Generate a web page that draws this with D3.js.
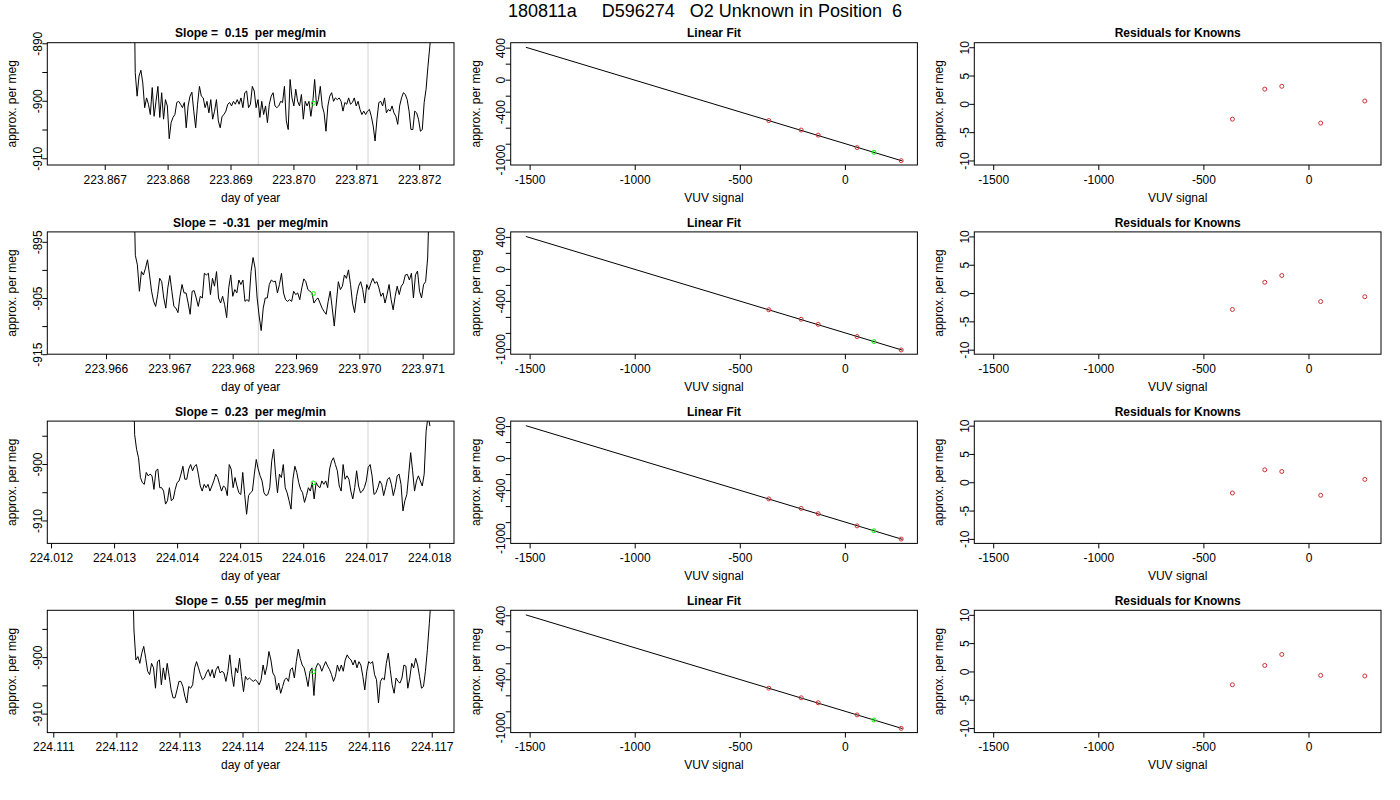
<!DOCTYPE html>
<html>
<head>
<meta charset="utf-8">
<script src="https://cdn.jsdelivr.net/npm/d3@7"></script>
<style>
    body { margin: 0; background: #fff; }
    svg text { font-family: "Liberation Sans", Arial, Helvetica, sans-serif; font-size: 12px; fill: #000; white-space: pre; }
</style>
</head>
<body>
<svg id="chart" width="1400" height="800"></svg>
<script>
// Run header
let runTitle = "180811a     D596274   O2 Unknown in Position  6";

// Drift slope for each aliquot (per meg/min)
let slopes = [0.15, -0.31, 0.23, 0.55];

// Time series, one row per aliquot (approx. per meg, evenly sampled)
let sampleStart = [223.867455, 223.966431, 224.013296, 224.112248];
let sampleEnd = [223.872199, 223.971111, 224.018011, 224.116993];

let perMeg1 = [
    -870, -895.1, -899.2, -895.7, -894.7, -896.9, -901.2, -899.5, -900.6, -902.4,
    -897.7, -902.7, -900.1, -897.5, -902.9, -898.6, -903.2, -899.8, -900.9, -906.6,
    -903.8, -902.9, -902.4, -900.3, -900.1, -900.6, -901.2, -900.3, -904.7, -900.9,
    -899.2, -898.5, -901.8, -904.7, -900.6, -897.5, -899.2, -899.5, -901.2, -900.1,
    -902.1, -899.8, -903.2, -901.8, -899.8, -903.5, -904.7, -902.7, -902.4, -901.8,
    -900.6, -900.3, -900.9, -900.1, -900.6, -899.8, -900.6, -899.5, -901.2, -898.6,
    -898.3, -901.2, -900.6, -897.5, -898.3, -901.2, -899.8, -902.9, -900.1, -902.4,
    -900.9, -903.8, -900.6, -899.2, -898.6, -900.9, -901.2, -900.9, -900.1, -900.3,
    -897.5, -903.5, -905.0, -896.3, -899.5, -900.9, -898.0, -900.1, -900.9, -898.9,
    -903.2, -900.1, -900.9, -900.1, -902.7, -900.3, -896.3, -900.9, -899.8, -897.5,
    -900.9, -902.1, -905.3, -900.9, -899.2, -898.6, -900.1, -899.5, -899.8, -899.5,
    -900.1, -901.8, -900.3, -900.6, -899.5, -900.6, -900.3, -899.5, -900.9, -900.1,
    -901.5, -902.4, -901.8, -902.4, -901.8, -901.5, -902.7, -904.4, -907.0, -903.2,
    -900.3, -900.1, -900.9, -899.5, -902.1, -901.5, -901.8, -900.9, -902.1, -902.7,
    -904.1, -900.9, -899.5, -898.6, -898.9, -899.8, -901.8, -905.0, -905.0, -901.8,
    -902.1, -903.2, -905.3, -905.0, -900.3, -898.0, -894.0, -890.5, -887.0
];

let perMeg2 = [
    -880, -897.4, -899.1, -903.8, -900.3, -900.9, -899.7, -898.2, -900.9, -903.8,
    -905.6, -906.5, -904.4, -901.5, -902.1, -905.0, -906.8, -903.2, -901.0, -903.8,
    -906.5, -906.8, -907.6, -904.7, -902.6, -904.1, -904.1, -905.9, -907.9, -903.8,
    -903.7, -905.0, -906.5, -904.7, -905.0, -900.6, -900.9, -900.6, -904.4, -901.5,
    -902.9, -900.3, -905.0, -905.9, -904.7, -906.2, -908.5, -903.2, -900.9, -904.7,
    -903.5, -904.1, -901.8, -902.6, -901.8, -905.6, -905.3, -905.6, -900.3, -897.8,
    -899.7, -905.0, -908.2, -910.8, -906.8, -905.0, -905.0, -902.6, -901.8, -902.1,
    -902.0, -904.1, -902.6, -900.6, -904.1, -905.3, -905.6, -905.3, -905.6, -903.8,
    -904.4, -904.1, -905.3, -903.2, -901.6, -902.1, -903.5, -903.8, -904.1, -905.9,
    -905.3, -905.0, -905.9, -906.8, -907.4, -907.9, -905.6, -903.8, -906.8, -910.0,
    -905.9, -902.1, -903.5, -902.9, -900.9, -901.5, -900.0, -902.6, -905.9, -907.6,
    -904.7, -902.9, -902.1, -903.5, -905.9, -902.6, -903.5, -902.4, -901.5, -902.4,
    -902.1, -903.2, -904.7, -904.1, -905.9, -904.4, -902.6, -905.3, -907.1, -904.7,
    -902.9, -904.4, -902.9, -902.4, -900.9, -900.8, -901.8, -900.6, -905.0, -900.9,
    -900.2, -903.8, -905.0, -902.6, -902.1, -897.9, -885
];

let perMeg3 = [
    -880, -894.8, -897.4, -898.9, -902.4, -903.3, -903.6, -901.5, -902.1, -901.8,
    -902.1, -904.5, -901.2, -900.9, -904.2, -904.2, -904.8, -907.1, -906.5, -904.2,
    -906.5, -906.2, -904.5, -903.3, -903.0, -901.8, -900.4, -902.7, -902.7, -900.9,
    -900.1, -901.2, -900.4, -900.1, -901.8, -903.9, -904.8, -903.6, -904.2, -903.6,
    -904.8, -903.9, -903.0, -901.8, -902.4, -903.6, -904.8, -903.9, -904.2, -905.6,
    -900.1, -900.9, -904.2, -902.4, -903.9, -905.1, -905.4, -901.5, -905.4, -908.9,
    -905.6, -905.1, -904.8, -901.8, -899.2, -900.9, -902.1, -903.0, -905.1, -905.6,
    -905.4, -904.2, -899.5, -897.4, -901.8, -905.1, -901.8, -902.4, -900.1, -904.2,
    -905.1, -906.5, -908.0, -902.7, -900.4, -901.5, -903.3, -904.5, -905.1, -906.8,
    -905.6, -904.2, -904.8, -903.3, -906.2, -903.3, -903.9, -904.2, -903.0, -903.6,
    -903.0, -904.2, -900.9, -899.5, -898.9, -900.1, -901.2, -903.9, -904.8, -900.1,
    -902.7, -902.1, -902.7, -904.8, -906.2, -904.2, -901.2, -903.9, -905.1, -904.8,
    -904.2, -903.0, -900.6, -900.1, -902.1, -905.4, -905.1, -904.2, -903.0, -903.6,
    -905.6, -904.2, -902.7, -902.4, -903.6, -905.6, -904.2, -902.1, -901.8, -903.6,
    -908.3, -906.5, -905.4, -901.8, -898.0, -901.2, -904.8, -903.0, -902.1, -903.0,
    -903.9, -901.8, -894.2, -891.5, -893.3
];

let perMeg4 = [
    -880, -895.2, -900.5, -899.9, -901.1, -899.3, -898.1, -900.2, -902.5, -903.1,
    -901.1, -901.9, -905.5, -900.8, -900.5, -904.9, -901.9, -904.0, -901.1, -903.4,
    -905.8, -907.2, -907.2, -905.8, -904.3, -904.3, -905.2, -906.9, -908.1, -905.2,
    -905.5, -904.9, -901.9, -900.8, -901.9, -903.1, -904.0, -903.7, -902.8, -902.2,
    -903.4, -902.2, -903.7, -902.2, -901.6, -902.8, -902.5, -902.8, -904.3, -902.5,
    -899.6, -903.1, -905.2, -901.9, -902.8, -900.2, -903.4, -906.1, -903.4, -904.0,
    -903.7, -904.0, -904.3, -904.0, -904.3, -904.9, -904.0, -901.4, -903.1, -901.6,
    -899.0, -900.5, -902.8, -903.4, -905.8, -904.6, -906.4, -905.2, -904.0, -903.7,
    -904.3, -902.2, -901.9, -903.7, -900.8, -898.6, -900.2, -901.4, -901.9, -903.4,
    -905.2, -902.5, -901.9, -906.8, -901.9, -901.1, -901.4, -902.5, -901.6, -900.8,
    -901.6, -902.2, -903.1, -904.3, -903.4, -901.4, -902.5, -901.4, -902.5, -900.5,
    -899.6, -900.2, -900.5, -901.4, -900.5, -901.9, -900.8, -901.4, -903.4, -905.8,
    -902.5, -900.8, -901.1, -900.8, -903.1, -904.0, -908.1, -904.3, -903.7, -904.0,
    -901.1, -899.3, -902.2, -904.9, -906.4, -903.7, -904.3, -904.6, -903.7, -901.4,
    -901.6, -905.5, -903.7, -901.1, -901.9, -900.2, -901.4, -903.4, -905.5, -905.2,
    -902.5, -898.7, -894.0, -889.0
];

let perMegSeries = [perMeg1, perMeg2, perMeg3, perMeg4];

// Integration window edges (grey lines) and the unknown's mean (green)
let windowStart = [223.869442, 223.968405, 224.015288, 224.114250];
let windowEnd = [223.871186, 223.970137, 224.017028, 224.115990];
let unknownTime = [223.870316, 223.969274, 224.016160, 224.115122];
let unknownPerMeg = [-900.4, -904.2, -903.35, -902.6];

// Axis limits and ticks for the time series panels
let timeLims = [
    [223.866087, 223.872553],
    [223.965073, 223.971495],
    [224.011941, 224.018392],
    [224.110905, 224.117353]
];
let timeTicks = [
    [223.867, 223.868, 223.869, 223.870, 223.871, 223.872],
    [223.966, 223.967, 223.968, 223.969, 223.970, 223.971],
    [224.012, 224.013, 224.014, 224.015, 224.016, 224.017, 224.018],
    [224.111, 224.112, 224.113, 224.114, 224.115, 224.116, 224.117]
];
let perMegLims = [
    [-911.17, -889.9],
    [-915.0, -893.24],
    [-914.06, -892.41],
    [-913.36, -891.71]
];
let perMegTicks = [
    [-910, -905, -900, -895, -890],
    [-915, -910, -905, -900, -895],
    [-910, -905, -900, -895],
    [-910, -905, -900, -895]
];
let perMegTickLabels = [
    [-910, -900, -890],
    [-915, -905, -895],
    [-910, -900],
    [-910, -900]
];

// Standards (knowns) and the unknown on the calibration line
let knownVUV = [-362, -208, -127, 58, 268];
let knownPerMeg = [
    [-511, -629, -693, -848, -1012],
    [-511, -630, -693, -846, -1013],
    [-510, -629, -695, -847, -1012],
    [-511, -631, -693, -845, -1013]
];
let unknownVUV = [138, 138, 138, 138];
let unknownFitPerMeg = [-908, -908, -908, -908];
let fitLineVUV = [-1518, 274];
let fitLinePerMeg = [405, -1016];

// Residuals of the knowns
let residuals = [
    [-2.7, 2.6, 3.1, -3.4, 0.5],
    [-2.9, 1.9, 3.1, -1.5, -0.65],
    [-1.9, 2.2, 1.9, -2.3, 0.5],
    [-2.35, 1.06, 3.0, -0.7, -0.8]
];

// Axis limits and ticks for the fit / residual panels
let vuvLims = [-1590, 345];
let vuvTicks = [-1500, -1000, -500, 0];
let fitLims = [-1066, 462];
let fitTicks = [-1000, -800, -600, -400, -200, 0, 200, 400];
let fitTickLabels = [-1000, -400, 0, 400];
let residLims = [-10.8, 10.8];
let residTicks = [-10, -5, 0, 5, 10];

// Layout of the 4 x 3 grid
let colLeft = [47.3, 510.7, 974.3];
let panelW = 406.7;
let rowTop = [42.7, 231.9, 421.1, 610.3];
let panelH = 122.3;

// plain hyphen minus, like R
let intFormat = d => String(d);
let dayFormat = d => d.toFixed(3);

let svg = d3.select("#chart");
svg.append("rect").attr("width", 1400).attr("height", 800).attr("fill", "white");

svg.append("text")
    .attr("x", 705)
    .attr("y", 17.3)
    .attr("text-anchor", "middle")
    .style("font-size", "18px")
    .text(runTitle);

for (let r = 0; r < 4; r++) {
    drawTimePanel(r);
    drawFitPanel(r);
    drawResidPanel(r);
};

// Box, title and axis titles shared by every panel
function drawFrame(left, top, title, xLabel, yLabel) {
    svg.append("rect")
        .attr("x", left)
        .attr("y", top)
        .attr("width", panelW)
        .attr("height", panelH)
        .attr("fill", "none")
        .attr("stroke", "#000")
        .attr("stroke-width", 1);

    svg.append("text")
        .attr("x", left + panelW / 2)
        .attr("y", top - 5.4)
        .attr("text-anchor", "middle")
        .style("font-weight", "bold")
        .text(title);

    svg.append("text")
        .attr("x", left + panelW / 2)
        .attr("y", top + panelH + 36.5)
        .attr("text-anchor", "middle")
        .text(xLabel);

    svg.append("text")
        .attr("text-anchor", "middle")
        .attr("transform", "translate(" + (left - 31) + "," + (top + panelH / 2) + ") rotate(-90)")
        .text(yLabel);
};

function drawAxes(x, y, xTicks, xFormat, yTicks, yLabels) {
    let bottom = y.range()[0];
    let left = x.range()[0];

    let gx = svg.append("g")
        .attr("transform", "translate(0," + bottom + ")")
        .call(d3.axisBottom(x).tickValues(xTicks).tickFormat(xFormat).tickSize(5).tickPadding(5));
    gx.select(".domain").remove();
    gx.attr("font-family", null).attr("font-size", null);

    let gy = svg.append("g")
        .attr("transform", "translate(" + left + ",0)")
        .call(d3.axisLeft(y).tickValues(yTicks).tickSize(5)
            .tickFormat(d => yLabels.indexOf(d) >= 0 ? intFormat(d) : ""));
    gy.select(".domain").remove();
    gy.attr("font-family", null).attr("font-size", null);
    gy.selectAll("text")
        .attr("x", null)
        .attr("dy", null)
        .attr("text-anchor", "middle")
        .attr("transform", "translate(-5.5,0) rotate(-90)");
};

function clipFor(id, left, top) {
    svg.append("clipPath").attr("id", id)
        .append("rect")
        .attr("x", left).attr("y", top)
        .attr("width", panelW).attr("height", panelH);
    return "url(#" + id + ")";
};

// Time series with drift slope
function drawTimePanel(r) {
    let left = colLeft[0], top = rowTop[r];
    let x = d3.scaleLinear().domain(timeLims[r]).range([left, left + panelW]);
    let y = d3.scaleLinear().domain(perMegLims[r]).range([top + panelH, top]);

    let vals = perMegSeries[r];
    let step = (sampleEnd[r] - sampleStart[r]) / (vals.length - 1);
    let pts = vals.map((v, i) => [sampleStart[r] + i * step, v]);

    let g = svg.append("g").attr("clip-path", clipFor("clipT" + r, left, top));

    // integration window
    [windowStart[r], windowEnd[r]].forEach(function(t) {
        g.append("line")
            .attr("x1", x(t)).attr("x2", x(t))
            .attr("y1", top).attr("y2", top + panelH)
            .attr("stroke", "#d3d3d3")
            .attr("stroke-width", 1);
    });

    g.append("path")
        .datum(pts)
        .attr("fill", "none")
        .attr("stroke", "#000")
        .attr("stroke-width", 1)
        .attr("d", d3.line().x(d => x(d[0])).y(d => y(d[1])));

    g.append("circle")
        .attr("cx", x(unknownTime[r]))
        .attr("cy", y(unknownPerMeg[r]))
        .attr("r", 2)
        .attr("fill", "none")
        .attr("stroke", "#00ff00")
        .attr("stroke-width", 1);

    drawAxes(x, y, timeTicks[r], dayFormat, perMegTicks[r], perMegTickLabels[r]);

    let slopeText = "Slope =  " + slopes[r].toFixed(2) + "  per meg/min";
    drawFrame(left, top, slopeText, "day of year", "approx. per meg");
};

// Calibration line with knowns (red) and unknown (green)
function drawFitPanel(r) {
    let left = colLeft[1], top = rowTop[r];
    let x = d3.scaleLinear().domain(vuvLims).range([left, left + panelW]);
    let y = d3.scaleLinear().domain(fitLims).range([top + panelH, top]);

    let g = svg.append("g").attr("clip-path", clipFor("clipF" + r, left, top));

    g.append("line")
        .attr("x1", x(fitLineVUV[0])).attr("y1", y(fitLinePerMeg[0]))
        .attr("x2", x(fitLineVUV[1])).attr("y2", y(fitLinePerMeg[1]))
        .attr("stroke", "#000")
        .attr("stroke-width", 1);

    g.selectAll("circle.known")
        .data(knownVUV)
        .enter()
        .append("circle")
        .attr("class", "known")
        .attr("cx", d => x(d))
        .attr("cy", (d, i) => y(knownPerMeg[r][i]))
        .attr("r", 2)
        .attr("fill", "none")
        .attr("stroke", "#cc3333")
        .attr("stroke-width", 1);

    g.append("circle")
        .attr("cx", x(unknownVUV[r]))
        .attr("cy", y(unknownFitPerMeg[r]))
        .attr("r", 2)
        .attr("fill", "none")
        .attr("stroke", "#00ff00")
        .attr("stroke-width", 1);

    drawAxes(x, y, vuvTicks, intFormat, fitTicks, fitTickLabels);
    drawFrame(left, top, "Linear Fit", "VUV signal", "approx. per meg");
};

// Residuals of the knowns about the fit
function drawResidPanel(r) {
    let left = colLeft[2], top = rowTop[r];
    let x = d3.scaleLinear().domain(vuvLims).range([left, left + panelW]);
    let y = d3.scaleLinear().domain(residLims).range([top + panelH, top]);

    svg.selectAll("circle.resid" + r)
        .data(residuals[r])
        .enter()
        .append("circle")
        .attr("class", "resid" + r)
        .attr("cx", (d, i) => x(knownVUV[i]))
        .attr("cy", d => y(d))
        .attr("r", 2)
        .attr("fill", "none")
        .attr("stroke", "#cc3333")
        .attr("stroke-width", 1);

    drawAxes(x, y, vuvTicks, intFormat, residTicks, residTicks);
    drawFrame(left, top, "Residuals for Knowns", "VUV signal", "approx. per meg");
};
</script>
</body>
</html>
